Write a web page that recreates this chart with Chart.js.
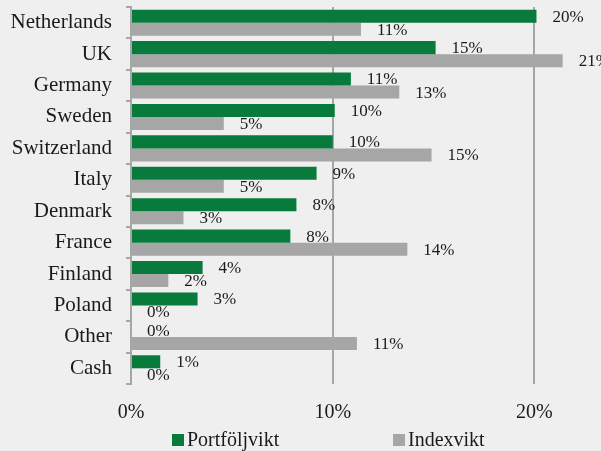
<!DOCTYPE html>
<html>
<head>
	<meta charset="utf-8">
	<script src="https://cdn.jsdelivr.net/npm/chart.js@4.4.1/dist/chart.umd.min.js"></script>
	<style>
		body{
			margin: 0;
			background: #efefef;
		}
		.chart{
			width: 601px;
			height: 451px;
		}
	</style>
</head>
<body>

	<div class="chart">
		<canvas id="myChart"></canvas>
	</div>

	<script>
		// data
		var countries = ["Netherlands","UK","Germany","Sweden","Switzerland","Italy","Denmark","France","Finland","Poland","Other","Cash"];
		var portfolj = [20.1, 15.1, 10.9, 10.1, 10.0, 9.2, 8.2, 7.9, 3.55, 3.3, 0, 1.45];
		var index = [11.4, 21.4, 13.3, 4.6, 14.9, 4.6, 2.6, 13.7, 1.85, 0, 11.2, 0];
		var seriesNames = ["Portföljvikt","Indexvikt"];
		var xTicks = [0, 10, 20];

		var green = '#077a3c';
		var grey = '#a6a6a6';
		var serif = "'Liberation Serif', 'DejaVu Serif', serif";

		// value labels at the end of every bar
		var barLabels = {
			id: 'barLabels',
			afterDatasetsDraw: function(chart){
				var ctx = chart.ctx;
				ctx.save();
				ctx.font = '17px ' + serif;
				ctx.fillStyle = '#1a1a1a';
				ctx.textAlign = 'left';
				ctx.textBaseline = 'middle';
				chart.data.datasets.forEach(function(ds, i){
					var meta = chart.getDatasetMeta(i);
					meta.data.forEach(function(bar, j){
						ctx.fillText(Math.round(ds.data[j]) + '%', bar.x + 16, bar.y + 1);
					});
				});
				ctx.restore();
			}
		};

		// legend spread out like the original
		var spreadLegend = {
			id: 'spreadLegend',
			afterDraw: function(chart){
				var ctx = chart.ctx;
				var y = 440;
				var xs = [172, 393];
				ctx.save();
				ctx.font = '20px ' + serif;
				ctx.textBaseline = 'middle';
				ctx.textAlign = 'left';
				chart.data.datasets.forEach(function(ds, i){
					ctx.fillStyle = ds.backgroundColor;
					ctx.fillRect(xs[i], y - 6, 12, 12);
					ctx.fillStyle = '#1a1a1a';
					ctx.fillText(ds.label, xs[i] + 15, y + 1);
				});
				ctx.restore();
			}
		};

		var ctx = document.getElementById("myChart").getContext('2d');
		var myChart = new Chart(ctx, {
			type: 'bar',
			data: {
				labels: countries,
				datasets: [{
					label: seriesNames[0],
					data: portfolj,
					backgroundColor: green,
					categoryPercentage: 0.83,
					barPercentage: 1
				},{
					label: seriesNames[1],
					data: index,
					backgroundColor: grey,
					categoryPercentage: 0.83,
					barPercentage: 1
				}]
			},
			options: {
				indexAxis: 'y',
				responsive: true,
				maintainAspectRatio: false,
				animation: false,
				layout: {
					padding: {top: 7, left: 0, right: 0, bottom: 26}
				},
				plugins: {
					legend: {display: false},
					tooltip: {enabled: false}
				},
				scales: {
					x: {
						min: 0,
						max: 23.3,
						afterBuildTicks: function(scale){
							scale.ticks = xTicks.map(function(v){ return {value: v}; });
						},
						afterFit: function(scale){
							scale.height = 41;
							scale.paddingLeft = 0;
							scale.paddingRight = 0;
						},
						grid: {
							color: function(c){ return c.tick && c.tick.value === 0 ? 'rgba(0,0,0,0)' : grey; },
							lineWidth: 2,
							drawTicks: false
						},
						border: {display: false},
						ticks: {
							padding: 17,
							color: '#1a1a1a',
							font: {family: serif, size: 20},
							callback: function(v){ return v + '%'; }
						}
					},
					y: {
						afterFit: function(scale){
							scale.width = 131;
							scale.paddingTop = 0;
							scale.paddingBottom = 0;
						},
						grid: {
							offset: true,
							drawOnChartArea: false,
							color: grey,
							lineWidth: 2,
							tickLength: 5
						},
						border: {display: true, color: grey, width: 2},
						ticks: {
							padding: 14,
							color: '#1a1a1a',
							font: {family: serif, size: 21}
						}
					}
				}
			},
			plugins: [barLabels, spreadLegend]
		});
	</script>

</body>
</html>
